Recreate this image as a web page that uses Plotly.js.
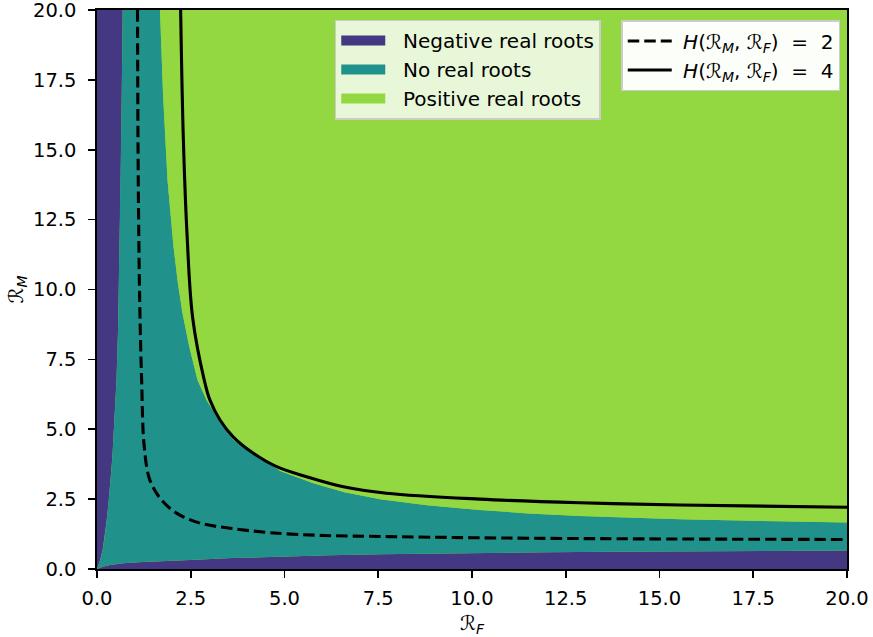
<!DOCTYPE html>
<html>
<head>
<meta charset="utf-8">
<script src="https://cdn.plot.ly/plotly-3.0.1.min.js"></script>
<style>html,body{margin:0;padding:0;background:#fff;}#chart{width:873px;height:637px;}</style>
</head>
<body>
<div id="chart"></div>
<script>
// Axis range
const axisRange = [0, 20];
const tickValues = [0, 2.5, 5, 7.5, 10, 12.5, 15, 17.5, 20];
const tickLabels = ["0.0", "2.5", "5.0", "7.5", "10.0", "12.5", "15.0", "17.5", "20.0"];

// Left boundary of the "no real roots" region (negative roots to the left)
const leftBoundX = [0, 0.08, 0.15, 0.2, 0.26, 0.31, 0.36, 0.41, 0.45, 0.49, 0.52, 0.56, 0.6, 0.63, 0.66, 0.685];
const leftBoundY = [0, 0.3, 0.68, 1.1, 1.75, 2.4, 3.18, 4.0, 5.0, 5.9, 6.76, 8.5, 11.0, 13.9, 17.0, 20];

// Bottom boundary of the "no real roots" region (negative roots below)
const bottomBoundX = [0, 0.15, 0.35, 0.7, 1.1, 1.59, 2.48, 3.6, 5.0, 6.2, 7.55, 9.0, 10.5, 12.0, 13.76, 16.0, 18.0, 20];
const bottomBoundY = [0, 0.08, 0.14, 0.21, 0.24, 0.26, 0.32, 0.39, 0.45, 0.49, 0.53, 0.56, 0.58, 0.60, 0.62, 0.64, 0.65, 0.66];

// Boundary between "no real roots" and "positive real roots"
const greenBoundX = [1.68, 1.76, 1.88, 2.04, 2.16, 2.28, 2.46, 2.68, 2.92, 3.24, 3.63, 3.95, 4.43, 4.9, 5.77, 6.6, 7.55, 8.8, 10.21, 11.5, 12.88, 15.55, 17.8, 20];
const greenBoundY = [20, 17.0, 13.92, 11.53, 10.2, 9.15, 7.95, 6.76, 6.05, 5.33, 4.62, 4.3, 3.9, 3.5, 3.07, 2.75, 2.5, 2.28, 2.11, 1.99, 1.9, 1.78, 1.72, 1.66];

// H(R_M, R_F) = 2 contour (dashed)
const h2X = [1.08, 1.10, 1.14, 1.19, 1.26, 1.41, 1.72, 2.12, 2.75, 3.55, 4.61, 6.03, 7.8, 10.0, 13.4, 20];
const h2Y = [20, 13.92, 9.5, 6.76, 4.38, 3.18, 2.47, 2.0, 1.64, 1.46, 1.30, 1.20, 1.16, 1.12, 1.085, 1.055];

// H(R_M, R_F) = 4 contour (solid)
const h4X = [2.23, 2.30, 2.40, 2.55, 2.86, 3.01, 3.28, 3.63, 4.17, 4.79, 5.59, 6.57, 7.72, 10.21, 12.88, 15.55, 20];
const h4Y = [20, 15.5, 12.0, 9.0, 6.76, 6.05, 5.33, 4.73, 4.14, 3.66, 3.30, 2.94, 2.71, 2.50, 2.37, 2.29, 2.21];

const regionNames = ["Negative real roots", "No real roots", "Positive real roots"];
const lineNames = ["<i>H</i>(ℛ<sub><i>M</i></sub>,&nbsp;ℛ<sub><i>F</i></sub>)&nbsp;&nbsp;=&nbsp;&nbsp;2",
                   "<i>H</i>(ℛ<sub><i>M</i></sub>,&nbsp;ℛ<sub><i>F</i></sub>)&nbsp;&nbsp;=&nbsp;&nbsp;4"];
const colNeg = "#453882", colNone = "#21918c", colPos = "#93d741";
const regionColors = [colNeg, colNone, colPos];
const lo = axisRange[0], hi = axisRange[1];

// Negative region: left strip + bottom strip
const negX = [lo].concat(leftBoundX, [lo, lo, null], bottomBoundX, [hi, lo]);
const negY = [lo].concat(leftBoundY, [hi, lo, null], bottomBoundY, [lo, lo]);

// No real roots region
const noneX = bottomBoundX.concat(greenBoundX.slice().reverse(), leftBoundX.slice().reverse());
const noneY = bottomBoundY.concat(greenBoundY.slice().reverse(), leftBoundY.slice().reverse());

// Positive region
const posX = greenBoundX.concat([hi, greenBoundX[0]]);
const posY = greenBoundY.concat([hi, hi]);

const regionPolys = [[negX, negY], [noneX, noneY], [posX, posY]];
const traces = [];
regionPolys.forEach(function (p, i) {
  traces.push({x: p[0], y: p[1], type: "scatter", mode: "lines", fill: "toself", fillcolor: regionColors[i],
    line: {width: 0, color: regionColors[i]}, showlegend: false, hoverinfo: "skip"});
});
// legend patches
regionNames.forEach(function (n, i) {
  traces.push({x: [null], y: [null], type: "scatter", mode: "lines", name: "&nbsp;&nbsp;" + n, legend: "legend",
    line: {width: 15, color: regionColors[i]}});
});
traces.push({x: h2X, y: h2Y, type: "scatter", mode: "lines", line: {color: "#000", width: 3.1, dash: "11.5px,5px", shape: "spline"},
   name: "&nbsp;" + lineNames[0], legend: "legend2"});
traces.push({x: h4X, y: h4Y, type: "scatter", mode: "lines", line: {color: "#000", width: 3.1, shape: "spline"},
   name: "&nbsp;" + lineNames[1], legend: "legend2"});

const axisCommon = {
  range: axisRange, tickvals: tickValues, ticktext: tickLabels,
  showgrid: false, zeroline: false, showline: true, linecolor: "#000", linewidth: 1.7, mirror: true,
  ticks: "outside", ticklen: 7, tickwidth: 1.6, tickcolor: "#000", ticklabeloverflow: "allow",
  tickfont: {family: "DejaVu Sans", size: 19.5, color: "#000"}
};

const layout = {
  width: 873, height: 637,
  margin: {l: 97, r: 26, t: 10, b: 68},
  paper_bgcolor: "#fff", plot_bgcolor: colPos,
  font: {family: "DejaVu Sans", size: 19.5, color: "#000"},
  xaxis: Object.assign({}, axisCommon, {ticklabelstandoff: 4,
    title: {text: "ℛ<sub><i>F</i></sub>", font: {size: 20}, standoff: 8}}),
  yaxis: Object.assign({}, axisCommon, {ticklabelstandoff: 8,
    title: {text: "ℛ<sub><i>M</i></sub>", font: {size: 20}, standoff: 4}}),
  showlegend: true,
  legend: {x: 0.317, y: 0.983, xanchor: "left", yanchor: "top", bgcolor: "rgba(255,255,255,0.8)",
           bordercolor: "#cccccc", borderwidth: 1.5, itemwidth: 44, font: {family: "DejaVu Sans", size: 20}},
  legend2: {x: 0.699, y: 0.982, xanchor: "left", yanchor: "top", bgcolor: "rgba(255,255,255,0.97)",
            bordercolor: "#cccccc", borderwidth: 1.5, itemwidth: 44, font: {family: "DejaVu Sans", size: 20}}
};

Plotly.newPlot("chart", traces, layout, {displayModeBar: false, staticPlot: true});
</script>
</body>
</html>
